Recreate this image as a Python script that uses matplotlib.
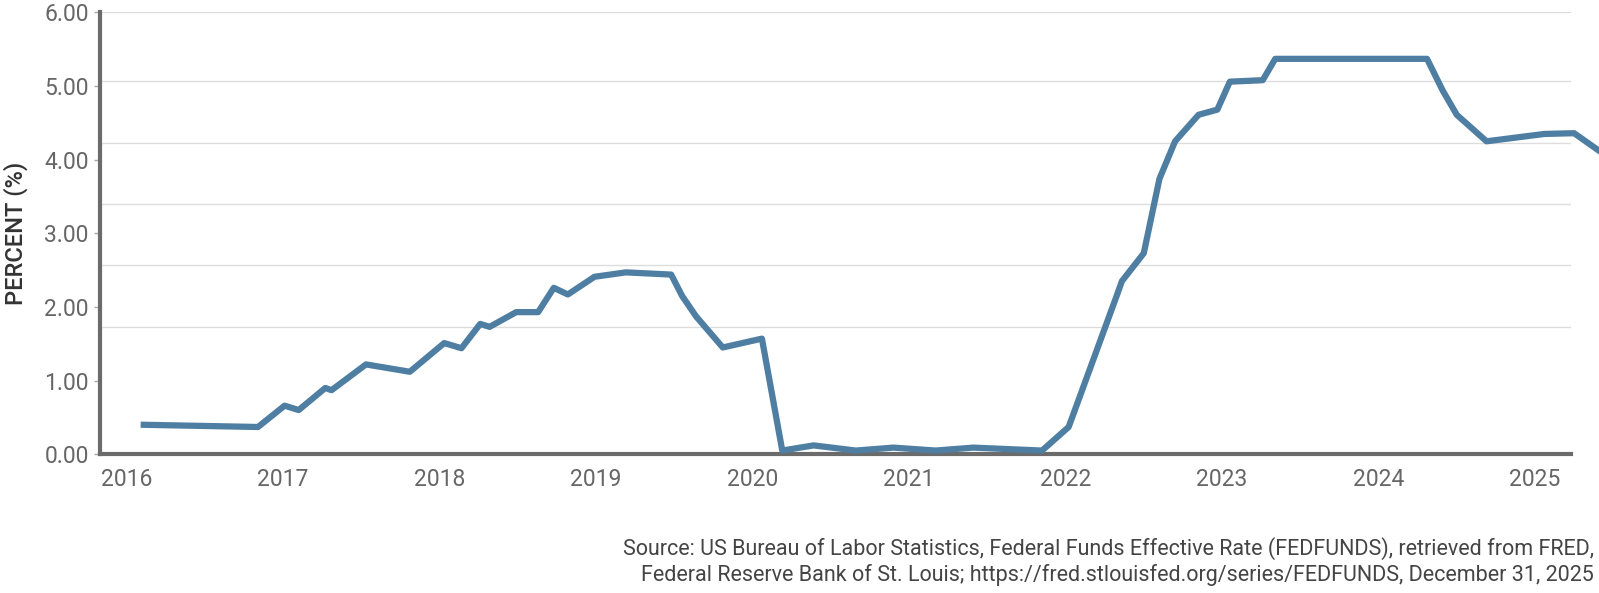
import matplotlib.pyplot as plt
import numpy as np

plt.rcParams['font.family'] = ['Roboto', 'DejaVu Sans']

# x in fractional years, y in percent
years = [2016.11, 2016.84, 2017.01, 2017.10, 2017.27, 2017.31, 2017.53, 2017.81,
         2018.03, 2018.14, 2018.26, 2018.32, 2018.49, 2018.63, 2018.73, 2018.82,
         2018.99, 2019.19, 2019.48, 2019.55, 2019.64, 2019.81, 2020.06, 2020.19,
         2020.39, 2020.66, 2020.9, 2021.17, 2021.41, 2021.85, 2022.02, 2022.33,
         2022.36, 2022.5, 2022.6, 2022.7, 2022.85, 2022.97, 2023.05, 2023.26,
         2023.34, 2024.31, 2024.41, 2024.5, 2024.69, 2025.06, 2025.25, 2025.33,
         2025.43, 2025.52]
rate = [0.40, 0.37, 0.66, 0.60, 0.90, 0.87, 1.22, 1.12, 1.51, 1.44, 1.77, 1.73,
        1.93, 1.93, 2.26, 2.17, 2.41, 2.47, 2.44, 2.15, 1.87, 1.45, 1.57, 0.05,
        0.12, 0.05, 0.09, 0.05, 0.09, 0.05, 0.37, 2.17, 2.35, 2.73, 3.74, 4.25,
        4.61, 4.68, 5.06, 5.08, 5.37, 5.37, 4.94, 4.61, 4.25, 4.35, 4.36, 4.24,
        4.09, 3.88]
tick_years = list(range(2016, 2026))
tick_vals = [0, 1, 2, 3, 4, 5, 6]
grid_vals = [1.73, 2.57, 3.40, 4.23, 5.07, 6.0]

fig = plt.figure(figsize=(15.99, 5.93), dpi=100)
ax = fig.add_axes([0.0625, 0.234, 0.920, 0.745])
for g in grid_vals:
    ax.axhline(g, color='#dddddd', lw=1, zorder=0)
ax.plot(years, rate, color='#4f7ea3', lw=4.5, solid_joinstyle='round',
        zorder=3, clip_on=False)

ax.set_xlim(2015.83, 2025.23)
ax.set_ylim(0, 6)
ax.set_xticks(tick_years)
ax.set_xticklabels([str(y) for y in tick_years])
ax.set_yticks(tick_vals)
ax.set_yticklabels([f'{v:.2f}' for v in tick_vals])
ax.tick_params(axis='both', colors='#666666', labelsize=16.5, length=0, pad=10)
ax.tick_params(axis='y', length=4, width=1, color='#aaaaaa', pad=4)
for s in ['top', 'right']:
    ax.spines[s].set_visible(False)
for s in ['left', 'bottom']:
    ax.spines[s].set_color('#6b6b6b')
    ax.spines[s].set_linewidth(3)
ax.set_ylabel('PERCENT (%)', fontsize=17, color='#333333', fontweight='medium', labelpad=12)

fig.text(0.997, 0.012,
         'Source: US Bureau of Labor Statistics, Federal Funds Effective Rate (FEDFUNDS), retrieved from FRED,\n'
         'Federal Reserve Bank of St. Louis; https://fred.stlouisfed.org/series/FEDFUNDS, December 31, 2025',
         ha='right', va='bottom', fontsize=15.5, color='#444444', linespacing=1.25)

fig.savefig('out.png', dpi=100)
